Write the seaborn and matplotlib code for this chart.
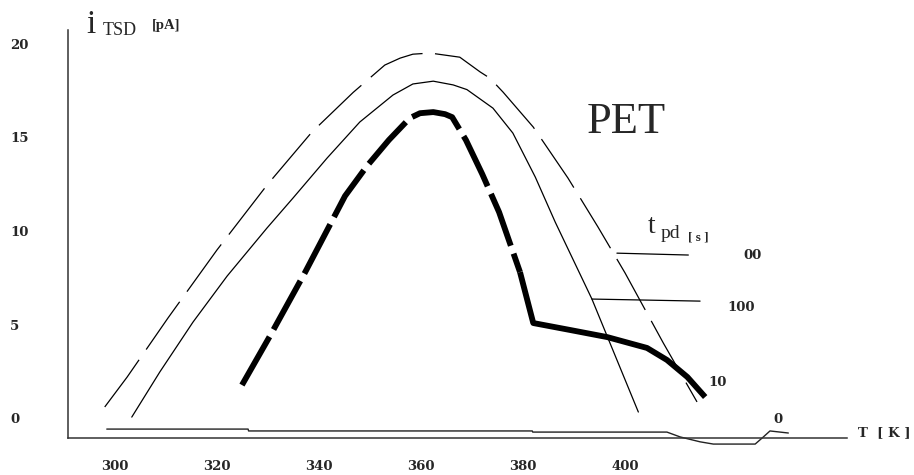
import numpy as np
import pandas as pd
import seaborn as sns
import matplotlib
matplotlib.use("Agg")
import matplotlib.pyplot as plt

# TSD current of PET, i_TSD [pA] against T [K], one curve per t_pd [s]
# t_pd = "00" (outer, long dashes)
t_00 = [298.0, 302.4, 310.4, 320.0, 329.8, 338.6, 346.7, 352.9, 355.9, 358.4,
        361.8, 367.6, 371.6, 373.5, 376.1, 382.0, 388.8, 394.7, 400.0, 407.5,
        414.1]
i_00 = [0.61, 2.21, 5.36, 8.99, 12.45, 15.28, 17.40, 18.86, 19.23, 19.44,
        19.50, 19.28, 18.49, 18.16, 17.41, 15.55, 12.83, 10.21, 7.76, 4.02,
        0.88]

# t_pd = 100 (thin solid)
t_100 = [303.3, 308.8, 315.3, 322.0, 329.8, 334.9, 341.6, 348.0, 354.5, 358.4,
         362.4, 366.3, 369.0, 374.1, 378.0, 382.4, 386.3, 393.5, 397.6, 402.6]
i_100 = [0.07, 2.48, 5.14, 7.60, 10.16, 11.76, 13.90, 15.82, 17.26, 17.85,
         18.00, 17.80, 17.55, 16.56, 15.23, 12.88, 10.48, 6.37, 3.65, 0.34]

# t_pd = 10 (thick), dashed rising part then solid tail
t_10_dashed = [324.9, 330.6, 337.3, 345.1, 349.4, 353.7, 357.8, 359.8, 362.4,
               364.7, 366.1, 368.8, 372.0, 375.3, 379.4]
i_10_dashed = [1.78, 4.50, 7.81, 11.87, 13.47, 14.86, 16.03, 16.29, 16.35,
               16.24, 16.08, 14.86, 13.04, 11.01, 7.81]
t_10_solid = [379.4, 382.0, 389.2, 396.5, 404.3, 408.2, 412.2, 415.7]
i_10_solid = [7.81, 5.09, 4.72, 4.34, 3.76, 3.12, 2.21, 1.14]

# t_pd = 0 (baseline)
t_0 = [298.4, 326.1, 326.2, 381.8, 381.9, 408.2, 410.8, 414.7, 417.3, 425.5,
       427.1, 428.4, 432.0]
i_0 = [-0.57, -0.57, -0.67, -0.67, -0.73, -0.73, -0.99, -1.25, -1.37, -1.37,
       -0.99, -0.67, -0.78]

# leader lines to the curve labels
lead_00_t = [398.4, 412.4]
lead_00_i = [8.82, 8.72]
lead_100_t = [393.5, 414.7]
lead_100_i = [6.37, 6.26]

x_ticks = [300, 320, 340, 360, 380, 400]
y_ticks = [0, 5, 10, 15, 20]

sns.set_style("white")
plt.rcParams["font.family"] = ["DejaVu Serif"]
plt.rcParams["lines.scale_dashes"] = False

fig = plt.figure(figsize=(9.14, 4.75), dpi=100)
ax = fig.add_axes([0.0744, 0.0779, 0.8523, 0.8589])

ink = "black"
sns.lineplot(x=t_00, y=i_00, ax=ax, color=ink, lw=0.9,
             linestyle=(0, (42, 9)), estimator=None)
sns.lineplot(x=t_100, y=i_100, ax=ax, color=ink, lw=0.9, estimator=None)
sns.lineplot(x=t_10_dashed, y=i_10_dashed, ax=ax, color=ink, lw=4.2,
             linestyle=(0, (40, 6)), estimator=None, dash_joinstyle="round")
sns.lineplot(x=t_10_solid, y=i_10_solid, ax=ax, color=ink, lw=4.2,
             estimator=None, solid_capstyle="butt", solid_joinstyle="round")
sns.lineplot(x=t_0, y=i_0, ax=ax, color="#222222", lw=1.0,
             estimator=None, clip_on=False)
sns.lineplot(x=lead_00_t, y=lead_00_i, ax=ax, color=ink, lw=0.9, estimator=None)
sns.lineplot(x=lead_100_t, y=lead_100_i, ax=ax, color=ink, lw=0.9, estimator=None)

ax.set_xlim(290.8, 443.5)
ax.set_ylim(-1.046, 20.73)
ax.set_xticks(x_ticks)
ax.set_yticks(y_ticks)
ax.set_xticklabels([str(v) for v in x_ticks])
ax.set_yticklabels([str(v) for v in y_ticks])
ax.tick_params(axis="both", length=0, labelsize=9.5)
ax.tick_params(axis="x", pad=15.5)
ax.tick_params(axis="y", pad=41.8)
for lab in ax.get_xticklabels() + ax.get_yticklabels():
    lab.set_fontweight("bold")
for lab in ax.get_yticklabels():
    lab.set_horizontalalignment("left")

sns.despine(ax=ax)
for side in ["left", "bottom"]:
    ax.spines[side].set_color("#333333")
    ax.spines[side].set_linewidth(1.1)
ax.set_xlabel("")
ax.set_ylabel("")

serif = ["Liberation Serif", "DejaVu Serif"]
# axis titles
ax.text(294.3, 20.57, "i", fontsize=24, family=serif, va="baseline")
ax.text(297.65, 20.46, "TSD", fontsize=13, family=serif, va="baseline")
ax.text(307.25, 20.78, "[pA]", fontsize=10.5, family=serif, weight="bold", va="baseline")
ax.text(445.7, -0.94, "T  [ K ]", fontsize=9.5, weight="bold", va="baseline")

ax.text(392.5, 15.23, "PET", fontsize=32, family=serif, va="baseline")
ax.text(404.5, 9.89, "t", fontsize=20, family=serif, va="baseline")
ax.text(406.9, 9.63, "pd", fontsize=14, family=serif, va="baseline")
ax.text(412.4, 9.52, "[ s ]", fontsize=9.5, family=serif, weight="bold", va="baseline")

ax.text(423.1, 8.51, "00", fontsize=9.5, weight="bold", va="baseline")
ax.text(420.0, 5.73, "100", fontsize=9.5, weight="bold", va="baseline")
ax.text(416.3, 1.73, "10", fontsize=9.5, weight="bold", va="baseline")
ax.text(429.0, -0.25, "0", fontsize=9.5, weight="bold", va="baseline")

fig.savefig("out.png", dpi=100, facecolor="white")
